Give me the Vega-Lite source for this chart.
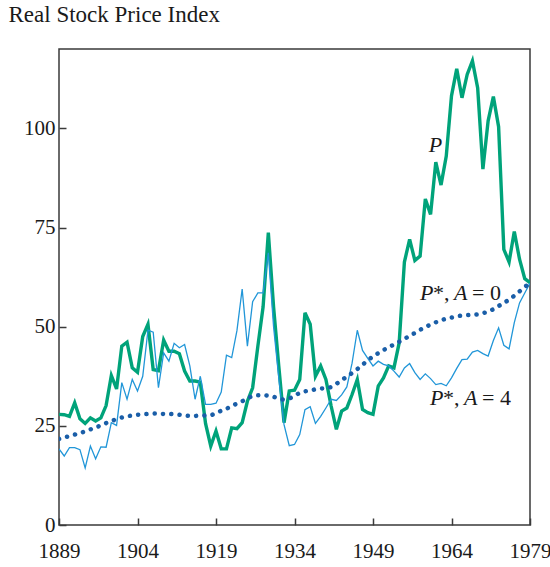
{
  "$schema": "https://vega.github.io/schema/vega-lite/v6.json",
  "width": 471,
  "height": 476,
  "autosize": {"type": "none"},
  "padding": {"left": 59, "top": 49, "right": 20, "bottom": 42},
  "background": "white",
  "title": {"text": "Real Stock Price Index", "anchor": "start", "frame": "bounds", "font": "Liberation Serif", "fontSize": 23, "fontWeight": "normal", "color": "#1a1a1a", "offset": 22, "dx": -15},
  "config": {
    "view": {"stroke": "#3a3a3a", "strokeWidth": 1.5},
    "axis": {"domain": false, "grid": false, "title": null, "labelFont": "Liberation Serif", "labelFontSize": 21, "labelColor": "#1a1a1a", "tickColor": "#3a3a3a", "tickWidth": 1.5, "tickSize": -7, "labelFlush": false}
  },
  "datasets": {
    "series": [
      {"year":1889,"P":27.9,"A0":21.7,"A4":19.2},
      {"year":1890,"P":27.8,"A0":22.1,"A4":17.4},
      {"year":1891,"P":27.4,"A0":22.4,"A4":19.5},
      {"year":1892,"P":30.8,"A0":22.8,"A4":19.5},
      {"year":1893,"P":26.8,"A0":23.2,"A4":19.0},
      {"year":1894,"P":25.6,"A0":23.6,"A4":14.4},
      {"year":1895,"P":27.0,"A0":24.1,"A4":19.9},
      {"year":1896,"P":26.2,"A0":24.6,"A4":16.7},
      {"year":1897,"P":27.0,"A0":25.1,"A4":19.7},
      {"year":1898,"P":30.1,"A0":25.7,"A4":19.6},
      {"year":1899,"P":37.7,"A0":26.2,"A4":25.8},
      {"year":1900,"P":34.3,"A0":26.7,"A4":25.1},
      {"year":1901,"P":45.1,"A0":27.1,"A4":35.9},
      {"year":1902,"P":46.1,"A0":27.4,"A4":31.7},
      {"year":1903,"P":39.6,"A0":27.6,"A4":36.7},
      {"year":1904,"P":38.5,"A0":27.8,"A4":33.8},
      {"year":1905,"P":47.5,"A0":27.9,"A4":37.5},
      {"year":1906,"P":50.6,"A0":28.0,"A4":49.1},
      {"year":1907,"P":39.2,"A0":28.1,"A4":48.6},
      {"year":1908,"P":38.9,"A0":28.1,"A4":34.6},
      {"year":1909,"P":46.6,"A0":28.0,"A4":43.4},
      {"year":1910,"P":43.8,"A0":28.0,"A4":41.3},
      {"year":1911,"P":43.8,"A0":27.9,"A4":45.8},
      {"year":1912,"P":43.2,"A0":27.8,"A4":44.7},
      {"year":1913,"P":38.8,"A0":27.6,"A4":45.5},
      {"year":1914,"P":36.3,"A0":27.5,"A4":40.1},
      {"year":1915,"P":36.3,"A0":27.5,"A4":31.7},
      {"year":1916,"P":36.0,"A0":27.6,"A4":37.5},
      {"year":1917,"P":25.6,"A0":27.6,"A4":30.4},
      {"year":1918,"P":19.9,"A0":27.7,"A4":30.4},
      {"year":1919,"P":23.7,"A0":28.2,"A4":30.7},
      {"year":1920,"P":19.2,"A0":28.8,"A4":33.5},
      {"year":1921,"P":19.2,"A0":29.3,"A4":42.8},
      {"year":1922,"P":24.5,"A0":30.0,"A4":42.2},
      {"year":1923,"P":24.3,"A0":30.6,"A4":49.0},
      {"year":1924,"P":25.8,"A0":31.2,"A4":59.5},
      {"year":1925,"P":31.2,"A0":31.9,"A4":45.1},
      {"year":1926,"P":34.6,"A0":32.5,"A4":56.3},
      {"year":1927,"P":45.1,"A0":32.7,"A4":58.5},
      {"year":1928,"P":55.0,"A0":32.7,"A4":58.5},
      {"year":1929,"P":73.7,"A0":32.6,"A4":68.6},
      {"year":1930,"P":55.0,"A0":32.3,"A4":50.0},
      {"year":1931,"P":40.0,"A0":31.9,"A4":37.0},
      {"year":1932,"P":25.8,"A0":31.6,"A4":25.3},
      {"year":1933,"P":33.8,"A0":31.9,"A4":20.0},
      {"year":1934,"P":34.0,"A0":32.5,"A4":20.3},
      {"year":1935,"P":36.7,"A0":33.3,"A4":22.8},
      {"year":1936,"P":53.5,"A0":33.7,"A4":29.1},
      {"year":1937,"P":50.6,"A0":33.9,"A4":29.8},
      {"year":1938,"P":37.5,"A0":34.2,"A4":25.6},
      {"year":1939,"P":40.1,"A0":34.4,"A4":27.4},
      {"year":1940,"P":36.7,"A0":34.5,"A4":29.5},
      {"year":1941,"P":30.0,"A0":34.8,"A4":31.7},
      {"year":1942,"P":24.1,"A0":35.6,"A4":31.4},
      {"year":1943,"P":28.7,"A0":36.5,"A4":32.8},
      {"year":1944,"P":29.5,"A0":37.4,"A4":34.8},
      {"year":1945,"P":32.9,"A0":38.3,"A4":40.8},
      {"year":1946,"P":36.7,"A0":39.3,"A4":49.1},
      {"year":1947,"P":29.1,"A0":40.4,"A4":44.0},
      {"year":1948,"P":28.3,"A0":41.5,"A4":42.0},
      {"year":1949,"P":27.9,"A0":42.5,"A4":40.1},
      {"year":1950,"P":35.0,"A0":43.3,"A4":41.3},
      {"year":1951,"P":37.1,"A0":44.1,"A4":40.5},
      {"year":1952,"P":40.1,"A0":44.8,"A4":40.1},
      {"year":1953,"P":39.6,"A0":45.5,"A4":38.8},
      {"year":1954,"P":45.9,"A0":46.2,"A4":37.3},
      {"year":1955,"P":66.3,"A0":46.9,"A4":39.6},
      {"year":1956,"P":72.0,"A0":47.7,"A4":40.7},
      {"year":1957,"P":66.7,"A0":48.4,"A4":38.4},
      {"year":1958,"P":67.8,"A0":49.2,"A4":36.7},
      {"year":1959,"P":82.2,"A0":49.9,"A4":38.1},
      {"year":1960,"P":78.3,"A0":50.5,"A4":36.9},
      {"year":1961,"P":91.5,"A0":51.1,"A4":35.4},
      {"year":1962,"P":85.7,"A0":51.6,"A4":35.7},
      {"year":1963,"P":93.0,"A0":52.0,"A4":35.1},
      {"year":1964,"P":108.2,"A0":52.3,"A4":37.1},
      {"year":1965,"P":115.0,"A0":52.6,"A4":39.5},
      {"year":1966,"P":107.7,"A0":52.8,"A4":41.7},
      {"year":1967,"P":113.6,"A0":52.9,"A4":41.8},
      {"year":1968,"P":117.0,"A0":53.0,"A4":43.6},
      {"year":1969,"P":110.2,"A0":53.1,"A4":44.0},
      {"year":1970,"P":89.7,"A0":53.4,"A4":43.2},
      {"year":1971,"P":101.9,"A0":53.8,"A4":42.6},
      {"year":1972,"P":108.0,"A0":54.4,"A4":46.5},
      {"year":1973,"P":100.4,"A0":55.2,"A4":49.7},
      {"year":1974,"P":69.5,"A0":56.0,"A4":45.3},
      {"year":1975,"P":66.3,"A0":56.8,"A4":44.4},
      {"year":1976,"P":74.0,"A0":57.8,"A4":51.0},
      {"year":1977,"P":67.0,"A0":58.9,"A4":56.0},
      {"year":1978,"P":62.1,"A0":60.0,"A4":58.5},
      {"year":1979,"P":61.1,"A0":61.0,"A4":61.0}
    ],
    "plabel": [{"year": 1960.95, "value": 95.7, "t": "P"}],
    "starlabels": [
      {"year": 1958.0, "value": 58.4, "p": "P", "star": "*,", "a": "A", "eq": "= 0"},
      {"year": 1959.9, "value": 31.9, "p": "P", "star": "*,", "a": "A", "eq": "= 4"}
    ]
  },
  "layer": [
    {
      "data": {"name": "series"},
      "mark": {"type": "line", "color": "#00a37a", "strokeWidth": 3.4, "strokeJoin": "miter", "clip": true},
      "encoding": {
        "x": {"field": "year", "type": "quantitative", "scale": {"domain": [1889, 1979], "nice": false, "zero": false}, "axis": {"values": [1889, 1904, 1919, 1934, 1949, 1964, 1979], "format": "d", "labelPadding": 22}},
        "y": {"field": "P", "type": "quantitative", "scale": {"domain": [0, 120], "nice": false}, "axis": {"values": [0, 25, 50, 75, 100], "labelPadding": 11}}
      }
    },
    {
      "data": {"name": "series"},
      "mark": {"type": "line", "color": "#2196d8", "strokeWidth": 1.3, "clip": true},
      "encoding": {
        "x": {"field": "year", "type": "quantitative"},
        "y": {"field": "A4", "type": "quantitative"}
      }
    },
    {
      "data": {"name": "series"},
      "mark": {"type": "line", "color": "#1a5ea8", "strokeWidth": 4.5, "strokeCap": "round", "strokeDash": [0.1, 8.2], "interpolate": "monotone", "clip": true},
      "encoding": {
        "x": {"field": "year", "type": "quantitative"},
        "y": {"field": "A0", "type": "quantitative"}
      }
    },
    {
      "data": {"name": "plabel"},
      "mark": {"type": "text", "font": "Liberation Serif", "fontStyle": "italic", "fontSize": 22, "color": "#1a1a1a", "align": "center", "baseline": "middle"},
      "encoding": {
        "x": {"field": "year", "type": "quantitative"},
        "y": {"field": "value", "type": "quantitative"},
        "text": {"field": "t"}
      }
    },
    {
      "data": {"name": "starlabels"},
      "mark": {"type": "text", "font": "Liberation Serif", "fontStyle": "italic", "fontSize": 22, "color": "#1a1a1a", "align": "left", "baseline": "middle"},
      "encoding": {
        "x": {"field": "year", "type": "quantitative"},
        "y": {"field": "value", "type": "quantitative"},
        "text": {"field": "p"}
      }
    },
    {
      "data": {"name": "starlabels"},
      "mark": {"type": "text", "font": "Liberation Serif", "fontSize": 22, "color": "#1a1a1a", "align": "left", "baseline": "middle", "dx": 13},
      "encoding": {
        "x": {"field": "year", "type": "quantitative"},
        "y": {"field": "value", "type": "quantitative"},
        "text": {"field": "star"}
      }
    },
    {
      "data": {"name": "starlabels"},
      "mark": {"type": "text", "font": "Liberation Serif", "fontStyle": "italic", "fontSize": 22, "color": "#1a1a1a", "align": "left", "baseline": "middle", "dx": 34},
      "encoding": {
        "x": {"field": "year", "type": "quantitative"},
        "y": {"field": "value", "type": "quantitative"},
        "text": {"field": "a"}
      }
    },
    {
      "data": {"name": "starlabels"},
      "mark": {"type": "text", "font": "Liberation Serif", "fontSize": 22, "color": "#1a1a1a", "align": "left", "baseline": "middle", "dx": 52},
      "encoding": {
        "x": {"field": "year", "type": "quantitative"},
        "y": {"field": "value", "type": "quantitative"},
        "text": {"field": "eq"}
      }
    }
  ]
}
